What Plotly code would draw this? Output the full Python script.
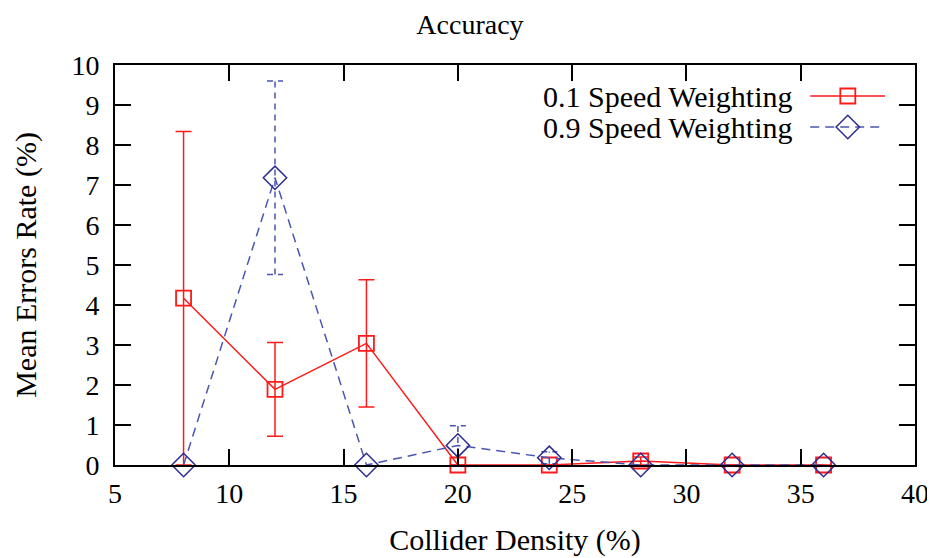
import plotly.graph_objects as go

x_density = [8, 12, 16, 20, 24, 28, 32, 36]
series_names = ["0.1 Speed Weighting", "0.9 Speed Weighting"]
err_rate_01 = [4.17, 1.89, 3.04, 0.0, 0.0, 0.1, 0.0, 0.0]
err_bar_01 = [4.17, 1.17, 1.59, 0.0, 0.0, 0.1, 0.0, 0.0]
err_rate_09 = [0.0, 7.18, 0.0, 0.49, 0.18, 0.0, 0.0, 0.0]
err_bar_09 = [0.0, 2.42, 0.0, 0.49, 0.15, 0.0, 0.0, 0.0]
x_ticks = [5, 10, 15, 20, 25, 30, 35, 40]
y_ticks = list(range(0, 11))

FONT = "Liberation Serif"
FS = 28      # tick labels
FS_T = 30    # axis titles and legend
RED = "#ff1a1a"
BLUE_LINE = "#4a55b0"
BLUE_MARK = "#2c2c90"
CAP = 0.35  # half cap width in x units

fig = go.Figure()

# blue dashed error bars built from data
ex, ey = [], []
for xv, yv, e in zip(x_density, err_rate_09, err_bar_09):
    if e <= 0:
        continue
    lo, hi = yv - e, yv + e
    ex += [xv, xv, None, xv - CAP, xv + CAP, None, xv - CAP, xv + CAP, None]
    ey += [lo, hi, None, lo, lo, None, hi, hi, None]
fig.add_trace(go.Scatter(x=ex, y=ey, mode="lines", showlegend=False,
                         line=dict(color=BLUE_LINE, width=1.5, dash="6px,5px"),
                         hoverinfo="skip"))

fig.add_trace(go.Scatter(
    x=x_density, y=err_rate_01, name=series_names[0], mode="lines+markers",
    line=dict(color=RED, width=1.5),
    marker=dict(symbol="square-open", size=15, color=RED, line=dict(width=1.8)),
    error_y=dict(type="data", array=err_bar_01, visible=True, color=RED,
                 thickness=1.5, width=8),
    showlegend=False, cliponaxis=False))

fig.add_trace(go.Scatter(
    x=x_density, y=err_rate_09, name=series_names[1], mode="lines+markers",
    line=dict(color=BLUE_LINE, width=1.5, dash="9px,6px"),
    marker=dict(symbol="diamond-open", size=18, color=BLUE_MARK, line=dict(width=1.5)),
    showlegend=False, cliponaxis=False))

# manual legend (text left, sample right) on hidden overlay axes
leg_y = [0.9225, 0.845]
fig.add_trace(go.Scatter(x=[0.869, 0.9625], y=[leg_y[0]] * 2, xaxis="x2", yaxis="y2",
                         mode="lines", line=dict(color=RED, width=1.5),
                         showlegend=False, hoverinfo="skip"))
fig.add_trace(go.Scatter(x=[0.916], y=[leg_y[0]], xaxis="x2", yaxis="y2", mode="markers",
                         marker=dict(symbol="square-open", size=15, color=RED, line=dict(width=1.8)),
                         showlegend=False, hoverinfo="skip"))
fig.add_trace(go.Scatter(x=[0.869, 0.9625], y=[leg_y[1]] * 2, xaxis="x2", yaxis="y2",
                         mode="lines", line=dict(color=BLUE_LINE, width=1.5, dash="9px,6px"),
                         showlegend=False, hoverinfo="skip"))
fig.add_trace(go.Scatter(x=[0.916], y=[leg_y[1]], xaxis="x2", yaxis="y2", mode="markers",
                         marker=dict(symbol="diamond-open", size=18, color=BLUE_MARK, line=dict(width=1.5)),
                         showlegend=False, hoverinfo="skip"))
for name, yy in zip(series_names, leg_y):
    fig.add_annotation(x=0.85, y=yy, xref="paper", yref="paper", text=name,
                       showarrow=False, xanchor="right", yanchor="middle",
                       font=dict(family=FONT, size=FS_T, color="black"))

axis_common = dict(showgrid=False, zeroline=False, showline=True, linecolor="black",
                   linewidth=2, mirror="allticks", ticks="inside", ticklen=16,
                   tickwidth=1.5, tickcolor="black", automargin=False,
                   tickfont=dict(family=FONT, size=FS, color="black"))

H = 549
fig.update_layout(
    width=924, height=H,
    margin=dict(l=107, r=17, t=57, b=92),
    paper_bgcolor="white", plot_bgcolor="white",
    title=dict(text="Accuracy", x=0.5, xanchor="center", y=1 - 16 / H, yanchor="middle",
               font=dict(family=FONT, size=28, color="black")),
    xaxis=dict(range=[5, 40], tickvals=x_ticks, ticklabelstandoff=2,
               title=dict(text="Collider Density (%)", font=dict(family=FONT, size=FS_T, color="black"),
                          standoff=24),
               **axis_common),
    yaxis=dict(range=[0, 10], tickvals=y_ticks, ticklabelstandoff=8,
               title=dict(text="Mean Errors Rate (%)", font=dict(family=FONT, size=FS_T, color="black"),
                          standoff=26),
               **axis_common),
    xaxis2=dict(overlaying="x", range=[0, 1], visible=False),
    yaxis2=dict(overlaying="y", range=[0, 1], visible=False),
    showlegend=False,
)

fig.write_html("out.html")
